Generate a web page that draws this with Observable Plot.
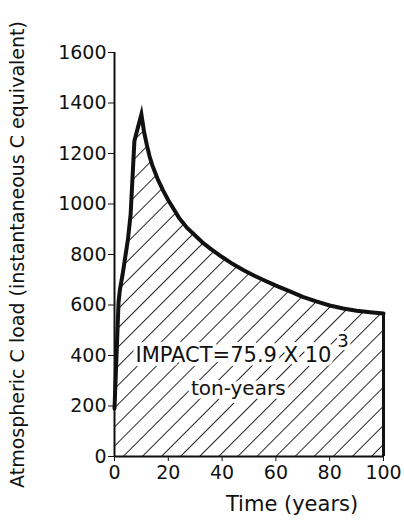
<!DOCTYPE html>
<html><head><meta charset="utf-8">
<script src="https://cdn.jsdelivr.net/npm/d3@7"></script>
<script src="https://cdn.jsdelivr.net/npm/@observablehq/plot@0.6"></script>
<style>body{margin:0;background:#fff} svg{display:block}</style>
</head><body><div id="chart"></div>
<script>
// Time (years) and atmospheric C load
const years = [0, 0.5, 1, 1.5, 2, 3, 4, 5, 6, 7.4, 10, 11, 12, 13, 14, 16, 18, 20, 22, 24, 27, 30, 33, 36, 40, 44, 48, 52, 56, 60, 65, 70, 75, 80, 85, 90, 95, 100];
const load  = [190, 330, 470, 610, 660, 720, 790, 860, 960, 1250, 1355, 1285, 1235, 1190, 1155, 1100, 1055, 1015, 980, 945, 905, 875, 845, 820, 790, 762, 738, 716, 696, 677, 655, 632, 614, 598, 586, 577, 571, 566];

const xTicks = [0, 20, 40, 60, 80, 100];
const yTicks = [0, 200, 400, 600, 800, 1000, 1200, 1400, 1600];

const yLabel = "Atmospheric C load (instantaneous C equivalent)";
const xLabel = [{t: 66, text: "Time (years)"}];
const impactText = [{t: 7.8, v: 400, text: "IMPACT=75.9 X 10"}];
const impactExp = [{t: 82.8, v: 455, text: "3"}];
const unitText = [{t: 46, v: 269, text: "ton-years"}];

const data = years.map((t, i) => ({t, v: load[i]}));
const lastLoad = [{t: years[years.length - 1], v: load[load.length - 1]}];

const chart = Plot.plot({
  width: 404, height: 529,
  marginLeft: 114, marginRight: 21, marginTop: 52, marginBottom: 73,
  style: {fontFamily: "'DejaVu Sans', sans-serif", fontSize: "19px", color: "#111", background: "#fff", overflow: "visible"},
  x: {domain: [0, 100], ticks: xTicks, tickSize: 5, tickPadding: 4, tickFormat: "d", label: null},
  y: {domain: [0, 1600], ticks: yTicks, tickSize: 6, tickPadding: 2, tickFormat: "d", label: yLabel, labelAnchor: "center", labelOffset: 104, labelArrow: "none"},
  marks: [
    Plot.areaY(data, {x: "t", y: "v", fill: "url(#hatch)"}),
    Plot.ruleX(lastLoad, {x: "t", y1: 0, y2: "v", stroke: "#111", strokeWidth: 3}),
    Plot.lineY(data, {x: "t", y: "v", stroke: "#111", strokeWidth: 4, strokeLinejoin: "miter", strokeMiterlimit: 20}),
    Plot.ruleX([0], {y1: 0, y2: 1600, stroke: "#111", strokeWidth: 2}),
    Plot.ruleY([0], {x1: 0, x2: 100, stroke: "#111", strokeWidth: 2}),
    Plot.text(impactText, {x: "t", y: "v", text: "text", textAnchor: "start", fontSize: 21, fill: "#111", stroke: "white", strokeWidth: 8}),
    Plot.text(impactExp, {x: "t", y: "v", text: "text", textAnchor: "start", fontSize: 18, fill: "#111", stroke: "white", strokeWidth: 6}),
    Plot.text(unitText, {x: "t", y: "v", text: "text", fontSize: 20, fill: "#111", stroke: "white", strokeWidth: 8}),
    Plot.text(xLabel, {x: "t", frameAnchor: "bottom", dy: 54, text: "text", fontSize: 21, fill: "#111"})
  ]
});

// hatch pattern definition
const ns = "http://www.w3.org/2000/svg";
const defs = document.createElementNS(ns, "defs");
const pat = document.createElementNS(ns, "pattern");
pat.setAttribute("id", "hatch");
pat.setAttribute("patternUnits", "userSpaceOnUse");
pat.setAttribute("width", "13.5");
pat.setAttribute("height", "13.5");
pat.setAttribute("patternTransform", "translate(123,456) rotate(45)");
const ln = document.createElementNS(ns, "line");
ln.setAttribute("x1", "0"); ln.setAttribute("y1", "0");
ln.setAttribute("x2", "0"); ln.setAttribute("y2", "13.5");
ln.setAttribute("stroke", "#111");
ln.setAttribute("stroke-width", "1.8");
pat.appendChild(ln);
defs.appendChild(pat);
chart.insertBefore(defs, chart.firstChild);

document.getElementById("chart").appendChild(chart);
</script>
</body></html>
